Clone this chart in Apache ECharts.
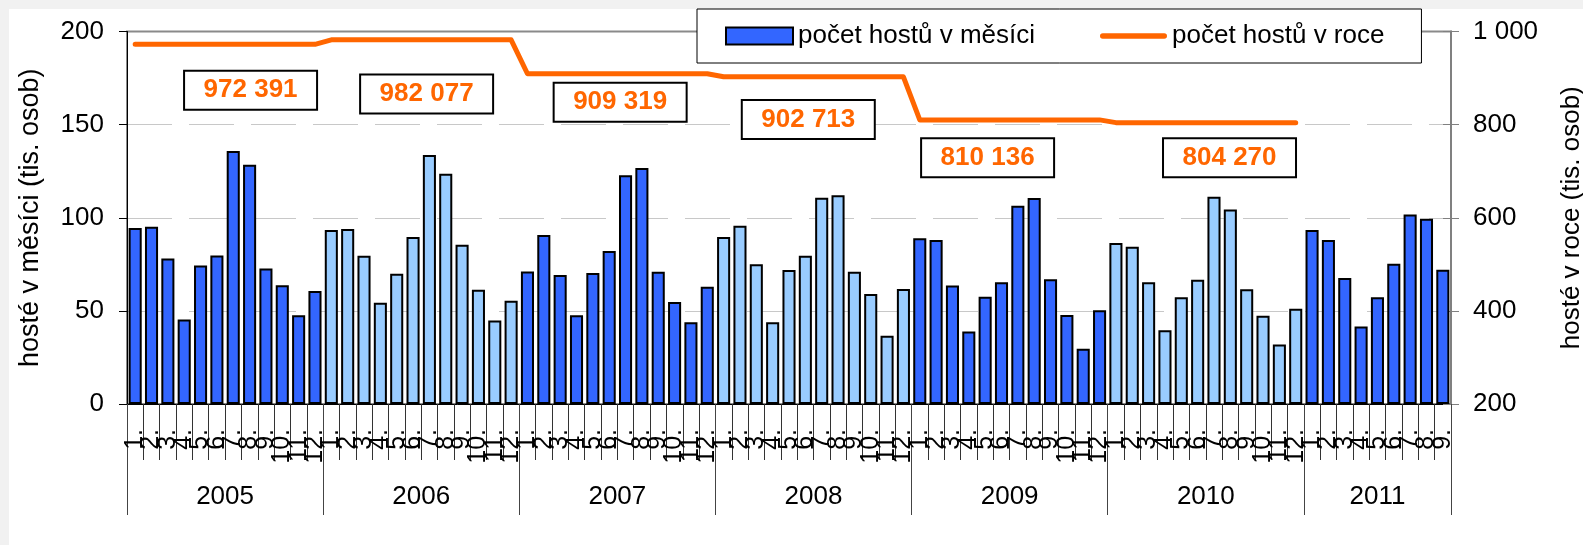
<!DOCTYPE html>
<html><head><meta charset="utf-8">
<script src="https://cdn.jsdelivr.net/npm/echarts@6/dist/echarts.min.js"></script>
<style>
html,body{margin:0;padding:0;background:#f1f1f1;overflow:hidden;}
#bg{position:absolute;left:9px;top:9px;width:1574px;height:536px;background:#fff;}
#chart{position:absolute;left:0;top:0;width:1583px;height:545px;}
</style></head><body>
<div id="bg"></div><div id="chart"></div>
<script>
// ---- data ----
const years = ['2005', '2006', '2007', '2008', '2009', '2010', '2011'];
const m2005 = [94.5, 95.2, 78.1, 45.4, 74.3, 79.7, 135.8, 128.5, 72.8, 63.7, 47.6, 60.7];
const m2006 = [93.4, 93.9, 79.6, 54.3, 70.0, 89.6, 133.7, 123.6, 85.5, 61.4, 44.8, 55.5];
const m2007 = [71.2, 90.8, 69.3, 47.7, 70.3, 82.1, 122.8, 126.7, 71.0, 54.8, 43.9, 63.0];
const m2008 = [89.7, 95.7, 75.0, 43.9, 72.0, 79.6, 110.8, 112.1, 71.0, 59.1, 36.6, 61.7];
const m2009 = [89.0, 88.0, 63.6, 38.9, 57.6, 65.4, 106.4, 110.6, 67.0, 47.8, 29.7, 50.4];
const m2010 = [86.5, 84.4, 65.4, 39.6, 57.3, 66.7, 111.3, 104.4, 61.6, 47.4, 31.9, 51.2];
const m2011 = [93.4, 88.1, 67.6, 41.6, 57.3, 75.3, 101.8, 99.5, 72.1];
const yearTotals = [972391, 982077, 909319, 902713, 810136, 804270]; // 2005-2010
const leftTicks = [0, 50, 100, 150, 200];
const rightTicks = [200, 400, 600, 800, 1000];
const seriesNames = ['počet hostů v měsíci', 'počet hostů v roce'];
const leftTitle = 'hosté v měsíci (tis. osob)';
const rightTitle = 'hosté v roce (tis. osob)';

// annotation box anchors (continuous month position, right-axis value) – layout only
const boxAt = [[7.56, 874], [18.33, 866], [30.17, 848], [41.68, 811], [52.65, 729], [67.45, 729]];

// ---- build ----
const monthly = [m2005, m2006, m2007, m2008, m2009, m2010, m2011];
const monthLabels = [], yearOfMonth = [], yearIdxOfMonth = [], barData = [], lineData = [];
const yearStart = new Set(), yearLabelIdx = {};
monthly.forEach((arr, y) => {
  const start = barData.length;
  yearStart.add(start);
  yearLabelIdx[start + Math.floor(arr.length / 2)] = arr.length % 2 === 0 ? 'f' : 'p';
  arr.forEach((v, m) => {
    monthLabels.push((m + 1) + '.');
    yearOfMonth.push(years[y]);
    yearIdxOfMonth.push(y);
    barData.push(v);
    lineData.push(y < yearTotals.length ? yearTotals[y] / 1000 : null);
  });
});
const nMonths = barData.length;
const fmtSpace = n => String(Math.round(n)).replace(/\B(?=(\d{3})+(?!\d))/g, ' ');

const FONT = '"Liberation Sans", Arial, sans-serif';
const GRID_C = '#c8c8c8';
const chart = echarts.init(document.getElementById('chart'), null, {renderer: 'canvas'});
chart.setOption({
  animation: false,
  backgroundColor: 'transparent',
  textStyle: {fontFamily: FONT, color: '#000'},
  grid: {left: 127, right: 132, top: 31.5, bottom: 141, show: true, borderColor: '#8a8a8a', borderWidth: 2,
         backgroundColor: 'transparent', containLabel: false, outerBoundsMode: 'none'},
  legend: {
    left: 697, top: 9, padding: [14, 37, 14, 28], itemGap: 65, itemWidth: 67, itemHeight: 17,
    backgroundColor: '#fff', borderColor: '#000', borderWidth: 1, borderRadius: 0,
    textStyle: {fontSize: 26, color: '#000', fontFamily: FONT},
    data: [
      {name: seriesNames[0], icon: 'rect', itemStyle: {color: '#3366FF', borderColor: '#000', borderWidth: 2}},
      {name: seriesNames[1], icon: 'path://M3,0 L69,0 A3,3 0 0 1 69,6 L3,6 A3,3 0 0 1 3,0 Z',
       itemStyle: {color: '#FF6600', borderWidth: 0}}
    ]
  },
  xAxis: [
    {
      type: 'category', data: monthLabels, position: 'bottom', boundaryGap: true,
      axisLine: {show: true, lineStyle: {color: '#000', width: 1}},
      axisTick: {show: true, interval: 0, length: 56, lineStyle: {color: '#333', width: 1}},
      axisLabel: {interval: 0, rotate: 90, margin: 25, fontSize: 25, color: '#000', fontFamily: FONT},
      splitLine: {show: false}
    },
    {
      type: 'category', data: yearOfMonth, position: 'bottom', boundaryGap: true,
      axisLine: {show: false},
      axisTick: {show: true, interval: (i) => yearStart.has(i), length: 111, lineStyle: {color: '#444', width: 1}},
      axisLabel: {
        interval: (i) => yearLabelIdx[i] !== undefined, margin: 80, fontSize: 26, color: '#000', fontFamily: FONT,
        formatter: (v, i) => '{' + yearLabelIdx[i] + '|' + v + '}',
        rich: {f: {fontSize: 26, padding: [0, 16.35, 0, 0]}, p: {fontSize: 26}}
      },
      splitLine: {show: false}
    },
    {
      // hidden continuous month axis used only to place the yearly-total boxes
      type: 'value', min: 0, max: nMonths, show: false
    }
  ],
  yAxis: [
    {
      type: 'value', position: 'left', min: leftTicks[0], max: leftTicks[leftTicks.length - 1], interval: leftTicks[1] - leftTicks[0],
      name: leftTitle, nameLocation: 'middle', nameRotate: 90, nameGap: 83,
      nameTextStyle: {fontSize: 27, color: '#000', fontFamily: FONT},
      axisLine: {show: true, lineStyle: {color: '#000', width: 1}},
      axisTick: {show: true, length: 8, lineStyle: {color: '#000'}},
      axisLabel: {margin: 23, fontSize: 26, color: '#000', fontFamily: FONT},
      splitLine: {show: true, lineStyle: {color: [GRID_C, GRID_C, GRID_C, GRID_C, 'rgba(0,0,0,0)'], width: 1, type: [45, 17]}}
    },
    {
      type: 'value', position: 'right', min: rightTicks[0], max: rightTicks[rightTicks.length - 1], interval: rightTicks[1] - rightTicks[0],
      name: rightTitle, nameLocation: 'middle', nameRotate: 90, nameGap: 108,
      nameTextStyle: {fontSize: 26, color: '#000', fontFamily: FONT},
      axisLine: {show: true, lineStyle: {color: '#808080', width: 2}},
      axisTick: {show: true, length: 8, lineStyle: {color: '#808080'}},
      axisLabel: {margin: 22, fontSize: 26, color: '#000', fontFamily: FONT, formatter: v => fmtSpace(v)},
      splitLine: {show: false}
    },
    {
      type: 'value', position: 'right', min: rightTicks[0], max: rightTicks[rightTicks.length - 1], interval: rightTicks[1] - rightTicks[0],
      axisLine: {show: false}, axisTick: {show: true, inside: true, length: 8, lineStyle: {color: '#808080'}},
      axisLabel: {show: false}, splitLine: {show: false}
    }
  ],
  series: [
    {
      name: seriesNames[0], type: 'bar', xAxisIndex: 0, yAxisIndex: 0, data: barData,
      barCategoryGap: '20%',
      itemStyle: {
        color: p => (yearIdxOfMonth[p.dataIndex] % 2 === 0 ? '#3366FF' : '#99CCFF'),
        borderColor: '#000', borderWidth: 2
      },
      z: 2
    },
    {
      name: seriesNames[1], type: 'line', xAxisIndex: 0, yAxisIndex: 1, data: lineData,
      symbol: 'none', connectNulls: false,
      lineStyle: {color: '#FF6600', width: 5, cap: 'round', join: 'round'},
      itemStyle: {color: '#FF6600'},
      z: 3
    },
    {
      name: 'boxes', type: 'scatter', xAxisIndex: 2, yAxisIndex: 1, data: [], z: 4,
      markPoint: {
        silent: true, symbol: 'rect', symbolSize: [2, 2],
        itemStyle: {color: 'rgba(0,0,0,0)', borderWidth: 0},
        label: {show: true, position: 'inside', color: '#FF6600', fontWeight: 'bold', fontSize: 26, fontFamily: FONT,
                backgroundColor: '#fff', borderColor: '#000', borderWidth: 2, padding: 0,
                width: 131, height: 37, lineHeight: 37, align: 'center', verticalAlign: 'middle',
                formatter: p => fmtSpace(p.value)},
        data: yearTotals.map((t, i) => ({coord: boxAt[i], value: t}))
      }
    }
  ]
});
</script>
</body></html>
